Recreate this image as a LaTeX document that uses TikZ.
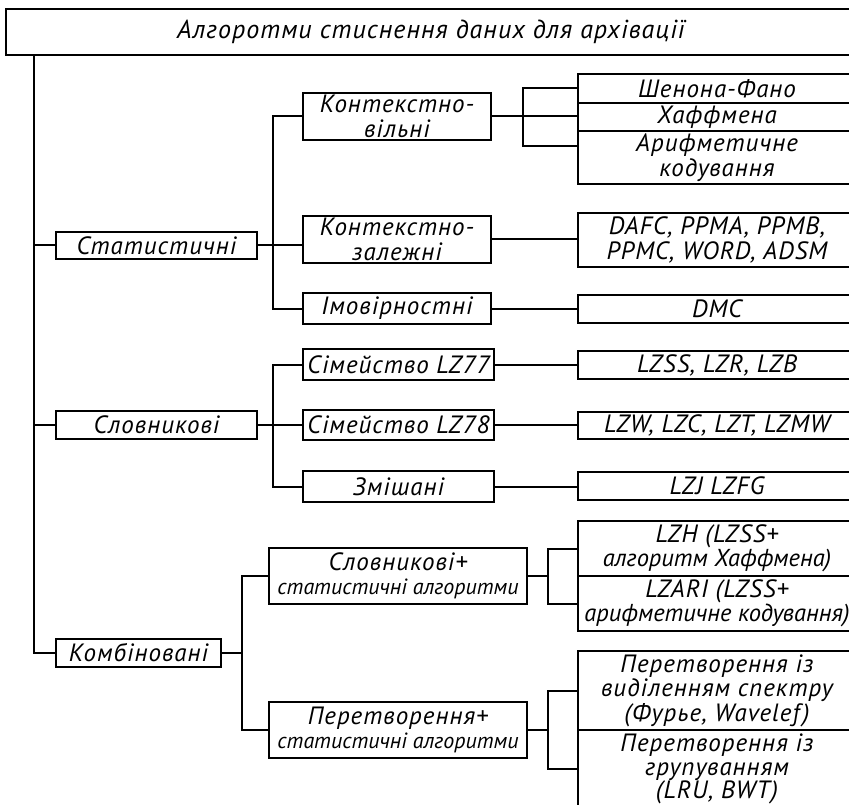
\documentclass[tikz,border=0pt]{standalone}
\usepackage{fontspec}
\setmainfont{PT Sans}[LetterSpace=4]
\newfontfamily\condfont{PT Sans}
\usepackage{tikz}

\tikzset{
  blk/.style={draw, line width=2pt, inner sep=0pt, align=center,
    font=\itshape\fontsize{25}{24.5}\selectfont},
  colr/.style={blk, minimum width=278pt},
}
\newcommand{\smalltxt}[1]{{\condfont\itshape\fontsize{22}{22}\selectfont #1}}
\newcommand{\condtxt}[1]{{\condfont\itshape\fontsize{24.5}{24.5}\selectfont #1}}

\begin{document}
\begin{tikzpicture}[x=1pt, y=-1pt, line width=2pt]
            \useasboundingbox (0,0) rectangle (849,805);
            \clip (0,0) rectangle (849,805);

            % root and first level
            \node[blk, minimum width=850pt, minimum height=46pt, font=\itshape\fontsize{26}{26}\selectfont] (title) at (431,32) {Алгоротми стиснення даних для архівації};
            \node[blk, minimum width=201pt, minimum height=27pt] (stat) at (156.5,245.5) {Статистичні};
            \node[blk, minimum width=201pt, minimum height=28pt] (slov) at (156.5,425) {Словникові};
            \node[blk, minimum width=165pt, minimum height=28pt] (komb) at (138.5,653) {Комбіновані};

            % second level
            \node[blk, minimum width=188pt, minimum height=47pt] (kvil) at (397,116.5) {Контекстно-\\вільні};
            \node[blk, minimum width=188pt, minimum height=47pt] (kzal) at (397,239.5) {Контекстно-\\залежні};
            \node[blk, minimum width=188pt, minimum height=31pt] (imov) at (397,308.5) {Імовірностні};
            \node[blk, minimum width=191pt, minimum height=31pt] (lz77) at (398.5,364.5) {Сімейство LZ77};
            \node[blk, minimum width=191pt, minimum height=30pt] (lz78) at (398.5,425) {Сімейство LZ78};
            \node[blk, minimum width=191pt, minimum height=31pt] (zmish) at (398.5,486.5) {Змішані};
            \node[blk, minimum width=258pt, minimum height=56pt] (slst) at (398,576) {Словникові+\\\smalltxt{статистичні алгоритми}};
            \node[blk, minimum width=258pt, minimum height=56pt] (perst) at (398,730) {Перетворення+\\\smalltxt{статистичні алгоритми}};

            % third level
            \node[colr, minimum height=29pt] (shf) at (717,88.5) {Шенона-Фано};
            \node[colr, minimum height=28pt] (haf) at (717,117) {Хаффмена};
            \node[colr, minimum height=53pt] (arif) at (717,157.5) {Арифметичне\\кодування};
            \node[colr, minimum height=54pt] (dafc) at (717,240) {DAFC, PPMA, PPMB,\\PPMC, WORD, ADSM};
            \node[colr, minimum height=28pt] (dmc) at (717,309) {DMC};
            \node[colr, minimum height=28pt] (lzss) at (717,365) {LZSS, LZR, LZB};
            \node[colr, minimum height=27pt] (lzw) at (717,425.5) {LZW, LZC, LZT, LZMW};
            \node[colr, minimum height=28pt] (lzj) at (717,486) {LZJ LZFG};
            \node[colr, minimum height=55pt] (lzh) at (717,548.5) {LZH (LZSS+\\\condtxt{алгоритм Хаффмена)}};
            \node[colr, minimum height=55pt] (lzari) at (717,603.5) {LZARI (LZSS+\\\condtxt{арифметичне кодування)}};
            \node[colr, minimum height=79pt] (spec) at (717,690.5) {Перетворення із\\виділенням спектру\\(Фурье, Wavelef)};
            \node[colr, minimum height=78pt, font=\itshape\fontsize{25}{23.5}\selectfont] (grup) at (717,769) {Перетворення із\\групуванням\\(LRU, BWT)};

            % branch lines
            \coordinate (t0) at (34,0);
            \coordinate (t1) at (273,0);
            \coordinate (t2) at (523,0);
            \coordinate (t3) at (242,0);
            \coordinate (t4) at (548,0);
            \coordinate (arifin) at ([yshift=11.5pt]arif.west);

            \draw (t0 |- title.south) -- (t0 |- komb.west) -- (komb.west); % title-komb
            \draw (t0 |- stat.west) -- (stat.west); % title-stat
            \draw (t0 |- slov.west) -- (slov.west); % title-slov

            \draw (stat.east) -- (stat.east -| kzal.west); % stat-kzal
            \draw (kvil.west) -- (t1 |- kvil.west) -- (t1 |- imov.west) -- (imov.west); % stat-kvil-imov

            \draw (kvil.east) -- (kvil.east -| haf.west); % kvil-haf
            \draw (shf.west) -- (t2 |- shf.west) -- (t2 |- arifin) -- (arifin); % kvil-shf-arif
            \draw (kzal.east) -- (kzal.east -| dafc.west); % kzal-dafc
            \draw (imov.east) -- (imov.east -| dmc.west); % imov-dmc

            \draw (slov.east) -- (lz78.west); % slov-lz78
            \draw (lz77.west) -- (t1 |- lz77.west) -- (t1 |- zmish.west) -- (zmish.west); % slov-lz77-zmish
            \draw (lz77.east) -- (lz77.east -| lzss.west); % lz77-lzss
            \draw (lz78.east) -- (lz78.east -| lzw.west); % lz78-lzw
            \draw (zmish.east) -- (zmish.east -| lzj.west); % zmish-lzj

            \draw (komb.east) -- (t3 |- komb.east); % komb
            \draw (slst.west) -- (t3 |- slst.west) -- (t3 |- perst.west) -- (perst.west); % komb-slst-perst

            \draw (slst.east) -- (t4 |- slst.east); % slst
            \draw (lzh.west) -- (t4 |- lzh.west) -- (t4 |- lzari.west) -- (lzari.west); % slst-lzh-lzari
            \draw (perst.east) -- (t4 |- perst.east); % perst
            \draw (spec.west) -- (t4 |- spec.west) -- (t4 |- grup.west) -- (grup.west); % perst-spec-grup
        \end{tikzpicture}
\end{document}
